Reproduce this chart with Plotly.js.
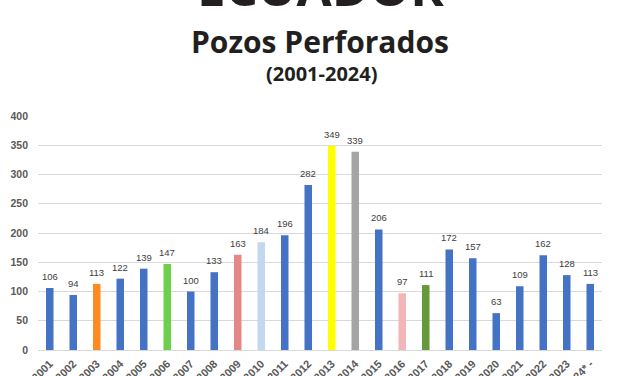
<!DOCTYPE html>
<html>
<head>
<meta charset="utf-8">
<script src="https://cdn.plot.ly/plotly-3.0.1.min.js"></script>
<style>
html,body{margin:0;padding:0;background:#fff;}
#chart{width:627px;height:376px;}
</style>
</head>
<body>
<div id="chart"></div>
<script>
const years = ["2001","2002","2003","2004","2005","2006","2007","2008","2009","2010","2011","2012","2013","2014","2015","2016","2017","2018","2019","2020","2021","2022","2023","2024* -"];
const wells = [106,94,113,122,139,147,100,133,163,184,196,282,349,339,206,97,111,172,157,63,109,162,128,113];
const barColors = ["#4472C4","#4472C4","#FF8A22","#4472C4","#4472C4","#6CD04A","#4472C4","#4472C4","#E38886","#C3D8F0","#4472C4","#4472C4","#FFFF00","#A5A5A5","#4472C4","#F2B6B9","#66993A","#4472C4","#4472C4","#4472C4","#4472C4","#4472C4","#4472C4","#4472C4"];
const yTicks = [0,50,100,150,200,250,300,350,400];

const bar = {
  type: 'bar',
  x: years,
  y: wells,
  marker: {color: barColors},
  hoverinfo: 'x+y'
};

// value labels: x given as category index (serial number) on the category axis
const labelAnns = years.map((c, i) => ({
  x: i, y: wells[i], xref: 'x', yref: 'y',
  text: String(wells[i]), showarrow: false,
  xanchor: 'center', yanchor: 'bottom', yshift: 4,
  font: {family: 'Liberation Sans, Arial, sans-serif', size: 9.5, color: '#404040'}
}));

const H = 376, MT = 116, MB = 26;
const plotH = H - MT - MB;
function pyFromTop(px){ return (H - MB - px) / plotH; }

const titleAnns = [
  {text: '<b>ECUADOR</b>', xref: 'paper', yref: 'paper', x: 0.5, y: pyFromTop(10), xanchor: 'center', yanchor: 'bottom', showarrow: false,
   font: {family: 'Open Sans, sans-serif', size: 51, color: '#231F20'}, yshift: -13},
  {text: '<b>Pozos Perforados</b>', xref: 'paper', yref: 'paper', x: 0.5, y: pyFromTop(41), xanchor: 'center', yanchor: 'middle', showarrow: false,
   font: {family: 'Open Sans, sans-serif', size: 30, color: '#231F20'}},
  {text: '<b>(2001-2024)</b>', xref: 'paper', yref: 'paper', x: 0.503, y: pyFromTop(73), xanchor: 'center', yanchor: 'middle', showarrow: false,
   font: {family: 'Open Sans, sans-serif', size: 20, color: '#231F20'}}
];

const layout = {
  width: 627, height: 376,
  margin: {l: 38, r: 25, t: MT, b: MB, pad: 0},
  paper_bgcolor: '#ffffff', plot_bgcolor: '#ffffff',
  showlegend: false,
  bargap: 0.68,
  xaxis: {
    type: 'category', tickangle: -45, automargin: false,
    tickfont: {family: 'Liberation Sans, Arial, sans-serif', size: 11, color: '#595959', weight: 'bold'},
    showgrid: false, zeroline: false, showline: true, linecolor: '#D9D9D9', linewidth: 1,
    ticks: '', ticklabelstandoff: 2, fixedrange: true
  },
  yaxis: {
    range: [0, 400], tickvals: yTicks, automargin: false,
    tickfont: {family: 'Liberation Sans, Arial, sans-serif', size: 10.5, color: '#595959', weight: 'bold'},
    showgrid: true, gridcolor: '#D9D9D9', gridwidth: 1,
    zeroline: false, showline: false, ticks: '', ticklabelstandoff: 9, fixedrange: true
  },
  annotations: labelAnns.concat(titleAnns)
};

Plotly.newPlot('chart', [bar], layout, {displayModeBar: false, staticPlot: true});
</script>
</body>
</html>
